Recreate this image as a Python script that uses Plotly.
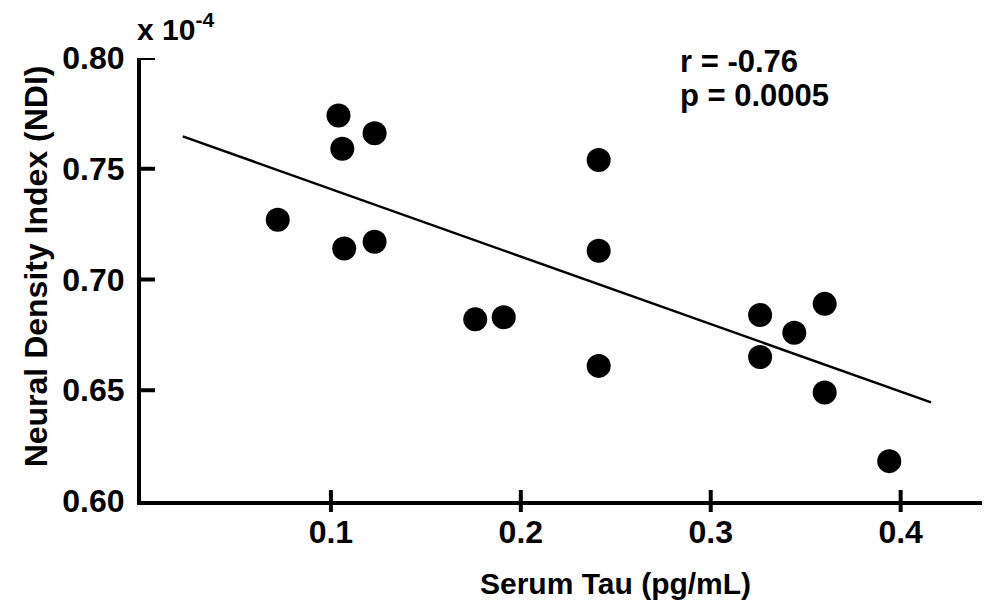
import plotly.graph_objects as go

# Data (NDI in units of 1e-4)
serum_tau = [0.072, 0.104, 0.106, 0.107, 0.123, 0.123, 0.176, 0.191, 0.241, 0.241,
             0.241, 0.326, 0.326, 0.344, 0.360, 0.360, 0.394]
ndi = [0.727, 0.774, 0.759, 0.714, 0.766, 0.717, 0.682, 0.683, 0.754, 0.713,
       0.661, 0.684, 0.665, 0.676, 0.689, 0.649, 0.618]
fit_x = [0.022, 0.416]
fit_y = [0.7646, 0.6445]
x_ticks = [0.1, 0.2, 0.3, 0.4]
x_ticktext = ["0.1", "0.2", "0.3", "0.4"]
y_ticks = [0.60, 0.65, 0.70, 0.75, 0.80]
y_ticktext = ["0.60", "0.65", "0.70", "0.75", "0.80"]

FONT = "Liberation Sans, Arial, sans-serif"

fig = go.Figure()
fig.add_trace(go.Scatter(x=fit_x, y=fit_y, mode="lines",
                         line=dict(color="black", width=2.5), showlegend=False))
fig.add_trace(go.Scatter(x=serum_tau, y=ndi, mode="markers",
                         marker=dict(color="black", size=24, line=dict(width=0)),
                         showlegend=False))

# tick marks: x ticks cross the axis line, y ticks point inward
PLOT_W, PLOT_H = 848, 443
shapes = []
for xv in x_ticks:
    shapes.append(dict(type="line", xref="x", yref="paper", x0=xv, x1=xv,
                       y0=-11 / PLOT_H, y1=11 / PLOT_H,
                       line=dict(color="black", width=4), layer="above"))
for yv in y_ticks[1:]:
    shapes.append(dict(type="line", xref="paper", yref="y", x0=0, x1=14 / PLOT_W,
                       y0=yv, y1=yv, line=dict(color="black", width=4), layer="above"))

# page body has an 8px margin, so the figure is made 8px smaller and margins shifted
fig.update_layout(
    width=982, height=598,
    margin=dict(l=133, r=2, t=50, b=105, autoexpand=False),
    paper_bgcolor="white", plot_bgcolor="white",
    font=dict(family=FONT, color="black", weight="bold"),
    shapes=shapes,
    xaxis=dict(range=[0, 0.446], tickvals=x_ticks, ticktext=x_ticktext,
               showline=True, linecolor="black", linewidth=4,
               ticks="", ticklabelstandoff=0,
               showgrid=False, zeroline=False, automargin=False,
               tickfont=dict(size=32, family=FONT, weight="bold")),
    yaxis=dict(range=[0.60, 0.80], tickvals=y_ticks, ticktext=y_ticktext,
               showline=True, linecolor="black", linewidth=4,
               ticks="", showgrid=False, zeroline=False, ticklabelstandoff=6,
               automargin=False,
               tickfont=dict(size=32, family=FONT, weight="bold")),
    annotations=[
        dict(text="Serum Tau (pg/mL)", xref="paper", yref="paper",
             x=0.560, y=-0.187, xanchor="center", yanchor="middle",
             showarrow=False, font=dict(size=30, family=FONT, weight="bold")),
        dict(text="Neural Density Index (NDI)", xref="paper", yref="paper",
             x=-0.1238, y=0.530, xanchor="center", yanchor="middle", textangle=-90,
             showarrow=False, font=dict(size=32, family=FONT, weight="bold")),
        dict(text="x 10<sup>-4</sup>", xref="paper", yref="paper",
             x=-0.0070, y=1.07, xanchor="left", yanchor="middle",
             showarrow=False, font=dict(size=30, family=FONT, weight="bold")),
        dict(text="r = -0.76", xref="paper", yref="paper",
             x=0.634, y=0.991, xanchor="left", yanchor="middle", align="left",
             showarrow=False, font=dict(size=31, family=FONT, weight="bold")),
        dict(text="p = 0.0005", xref="paper", yref="paper",
             x=0.634, y=0.916, xanchor="left", yanchor="middle", align="left",
             showarrow=False, font=dict(size=31, family=FONT, weight="bold")),
    ],
)

fig.write_html("out.html")
